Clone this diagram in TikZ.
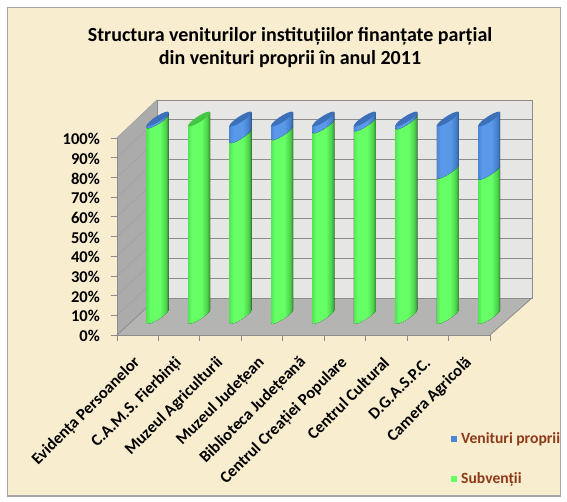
\documentclass[tikz,border=0pt]{standalone}
\usepackage{fontspec}
\setmainfont{Carlito}
\definecolor{bg}{HTML}{F8EDCF}
\definecolor{framegray}{HTML}{A6A6A6}
\definecolor{backwall}{HTML}{E6E6E4}
\definecolor{sidewall}{HTML}{ABABAB}
\definecolor{floorc}{HTML}{B4B4B2}
\definecolor{gridc}{HTML}{8C8C8C}
\definecolor{gA}{HTML}{55E655}
\definecolor{gB}{HTML}{66FF66}
\definecolor{gC}{HTML}{4CD44C}
\definecolor{gD}{HTML}{2A8A2A}
\definecolor{gcap}{HTML}{46C446}
\definecolor{bA}{HTML}{4C86D6}
\definecolor{bB}{HTML}{5A98EA}
\definecolor{bC}{HTML}{4680CC}
\definecolor{bD}{HTML}{2A5A98}
\definecolor{bcap}{HTML}{3C70B8}
\definecolor{legtext}{HTML}{8E3A18}
\pgfdeclarehorizontalshading{gcyl}{100bp}{color(0bp)=(gA); color(25bp)=(gA); color(33bp)=(gB); color(55bp)=(gB); color(68bp)=(gC); color(75bp)=(gD); color(100bp)=(gD)}
\pgfdeclarehorizontalshading{bcyl}{100bp}{color(0bp)=(bA); color(25bp)=(bA); color(33bp)=(bB); color(55bp)=(bB); color(68bp)=(bC); color(75bp)=(bD); color(100bp)=(bD)}
\tikzset{
  ylab/.style={anchor=east, inner sep=0pt, font=\bfseries\fontsize{16.5}{18}\selectfont},
  catlab/.style={anchor=east, rotate=45, inner sep=0pt, font=\bfseries\fontsize{16.5}{18}\selectfont},
  legtxt/.style={anchor=west, inner sep=0pt, text=legtext, font=\bfseries\fontsize{15.6}{18}\selectfont},
  gridline/.style={draw=gridc, line width=0.9pt},
  edgeline/.style={draw=gridc, line width=0.8pt}
}
\begin{document}
\begin{tikzpicture}[x=1pt,y=-1pt]
\useasboundingbox (0,0) rectangle (567,501);
\fill[white] (0,0) rectangle (567,501);
\draw[fill=bg, draw=framegray, line width=1.5pt] (7.5,7.5) rectangle (560.5,496);
% title
\node[font=\bfseries\fontsize{20}{23}\selectfont, align=center] (title) at (290,48)
  {Structura veniturilor instituțiilor finanțate parțial\\din venituri proprii în anul 2011};
% walls
\fill[backwall] (157,100) rectangle (532,298);
\fill[sidewall] (117,138) -- (157,100) -- (157,298) -- (117,335) -- cycle;
\fill[floorc] (117,335) -- (157,298) -- (532,298) -- (490,335) -- cycle;
\foreach \k in {1,...,10} {
  \draw[gridline] (157,298-19.8*\k) -- (532,298-19.8*\k);
  \draw[gridline, draw=gridc!80] (117,335-19.7*\k) -- (157,298-19.8*\k);
}
\draw[edgeline] (157,100) -- (157,298) -- (532,298) -- (532,100);
\draw[edgeline] (117,335) -- (157,298);
\draw[edgeline] (490,335) -- (532,298);
% axes
\coordinate (o) at (117,335);
\coordinate (ytop) at (117,138);
\coordinate (xend) at (490,335);
\draw[edgeline] (ytop) -- (o) -- (xend);
\foreach \k in {0,...,10} {
  \pgfmathtruncatemacro\p{10*\k}
  \pgfmathsetmacro\yy{335-19.7*\k}
  \draw[edgeline] (111,\yy) -- (117,\yy);
  \node[ylab] (y\k) at (100,\yy+1) {\p\%};
}
\foreach \i in {0,...,9} {
  \pgfmathsetmacro\xx{117+41.44*\i}
  \draw[edgeline] (\xx,335) -- (\xx,341);
}
% cylinders
\foreach \i/\g in {1/0.99,2/1,3/0.915,4/0.93,5/0.965,6/0.975,7/0.985,8/0.735,9/0.73} {
  \pgfmathsetmacro\cx{117+41.44*(\i-0.5)+20}
  \pgfmathsetmacro\hg{197.5*\g}
  \begin{scope}[shift={(\cx,316.5)}, yslant=0.6]
    \fill[shading=gcyl] (-11,0) -- (-11,-\hg) -- (11,-\hg) -- (11,0)
      arc[start angle=0, end angle=-180, x radius=11pt, y radius=3.4pt] -- cycle;
    \ifdim \g pt<1pt
      \fill[shading=bcyl] (-11,-\hg) -- (-11,-197.5) -- (11,-197.5) -- (11,-\hg)
        arc[start angle=0, end angle=-180, x radius=11pt, y radius=3.4pt] -- cycle;
      \fill[bcap] (0,-197.5) ellipse[x radius=11pt, y radius=3.4pt];
    \else
      \fill[gcap] (0,-197.5) ellipse[x radius=11pt, y radius=3.4pt];
    \fi
  \end{scope}
}
% category labels
\foreach \i/\t in {1/Evidența Persoanelor,2/C.A.M.S. Fierbinți,3/Muzeul Agriculturii,4/Muzeul Județean,5/Biblioteca Județeană,6/Centrul Creației Populare,7/Centrul Cultural,8/D.G.A.S.P.C.,9/Camera Agricolă} {
  \pgfmathsetmacro\lx{117+41.44*(\i-0.5)}
  \node[catlab] (c\i) at (\lx,360) {\t};
}
% legend
\fill[bA] (451,436) rectangle (457,442);
\node[legtxt] (l1) at (461,439) {Venituri proprii};
\fill[gB] (451,476) rectangle (457,482);
\node[legtxt] (l2) at (461,479) {Subvenții};
\end{tikzpicture}
\end{document}
